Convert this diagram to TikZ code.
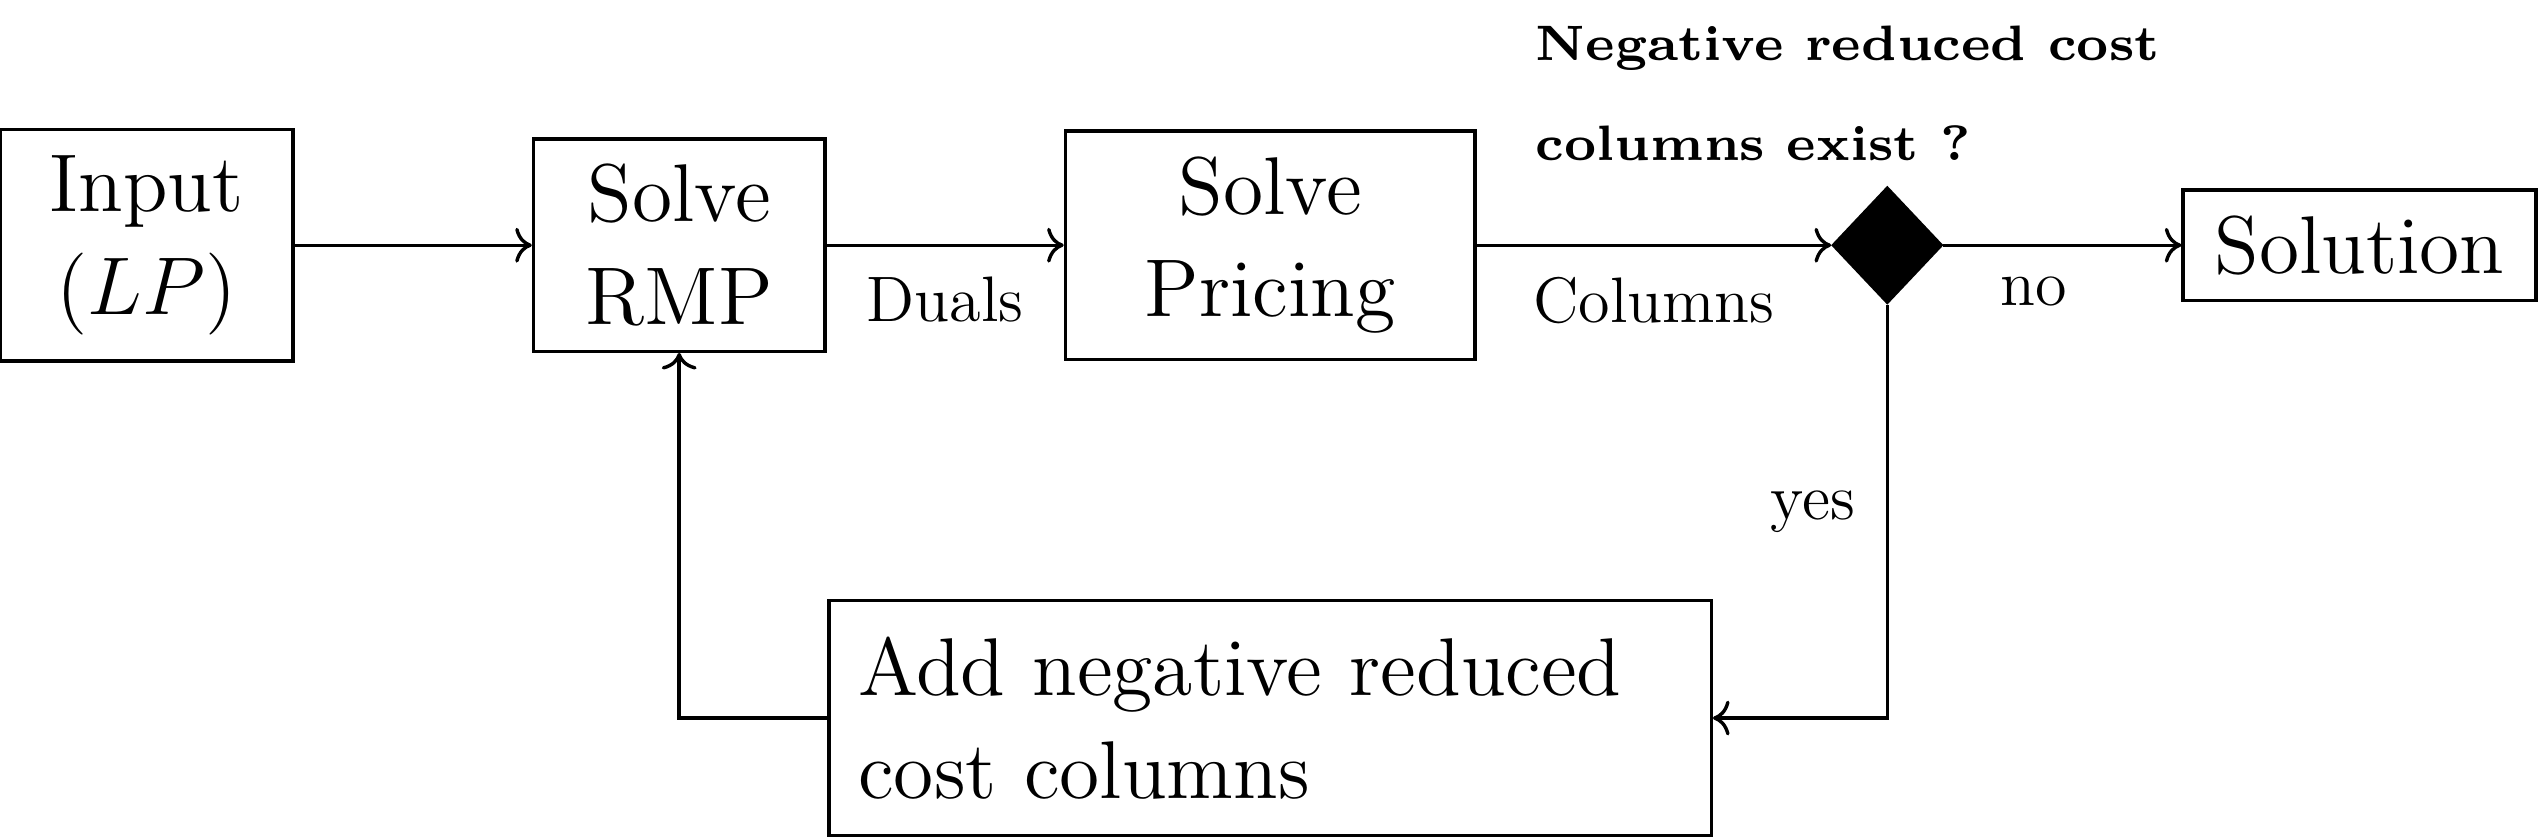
\documentclass[tikz,border=0pt]{standalone}
\usepackage{amsmath}
\usepackage{tikz}
\usetikzlibrary{positioning, shapes.geometric, arrows.meta}

\begin{document}
\begin{tikzpicture}[
    node distance=1.465cm,
    box/.style={draw, semithick, text centered, align=center, font=\Large},
    arrow/.style={->, semithick},
    lbl/.style={font=\fontsize{11.3}{13.6}\selectfont},
    decision/.style={diamond, draw, fill=black, inner sep=0pt, minimum width=0.68cm, minimum height=0.72cm}
    ]
    \useasboundingbox (0,0) rectangle (15.68,-5.176);
    \node (input) [box, minimum width=1.81cm, minimum height=1.43cm] at (0.905,-1.515) {Input\\$(LP)$};
    \node (rmp) [box, minimum width=1.80cm, minimum height=1.31cm, right=of input] {Solve\\RMP};
    \node (pricing) [box, minimum width=2.53cm, minimum height=1.41cm, right=of rmp] {Solve\\Pricing};
    \node (decide) [decision, right=2.19cm of pricing] {};
    \node (solution) [box, minimum width=2.18cm, minimum height=0.68cm, right=1.47cm of decide] {Solution};
    \node (add) [box, align=left, text width=5.09cm, inner sep=0.18cm, minimum height=1.45cm, below=1.47cm of pricing] {Add negative reduced cost columns};
    \node (question) [anchor=west, align=left, inner sep=0pt, scale=1.25, transform shape, font=\fontsize{7}{8}\selectfont\bfseries] at (9.48,-0.575) {Negative reduced cost\\[6.1pt]columns exist ?};

    \draw[arrow] (input) -- (rmp);
    \draw[arrow] (rmp) -- (pricing) node[lbl, midway, below=2pt] {Duals};
    \draw[arrow] (pricing) -- (decide) node[lbl, midway, below=2pt] {Columns};
    \draw[arrow] (decide) -- (solution) node[lbl, pos=0.38, below=2pt] {no};
    \draw[arrow] (decide.south) |- (add.east) node[lbl, pos=0.25, left=2pt] {yes};
    \draw[arrow] (add.west) -| (rmp.south);
\end{tikzpicture}
\end{document}
